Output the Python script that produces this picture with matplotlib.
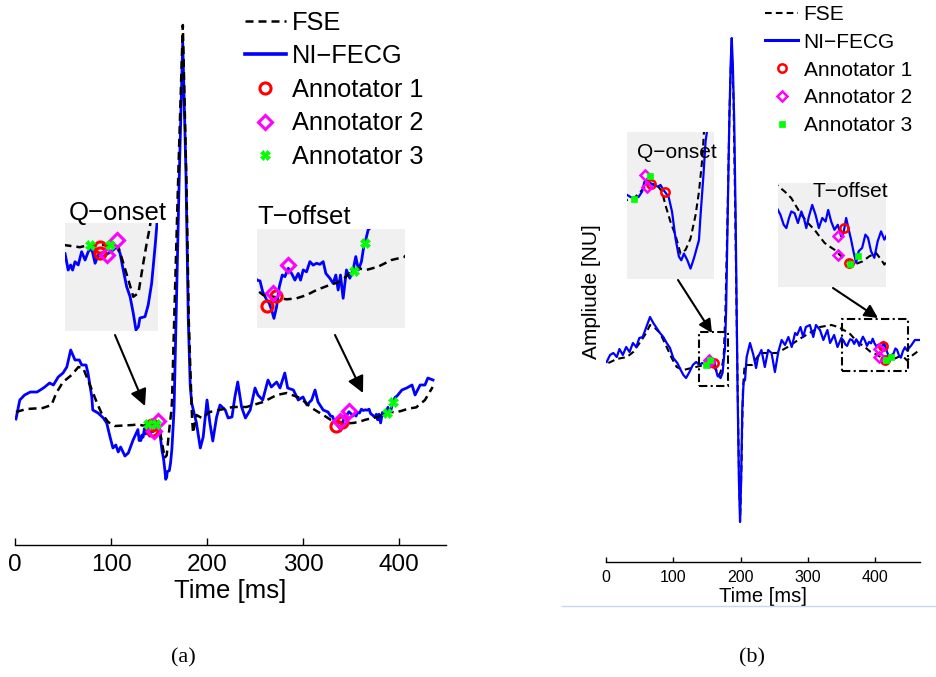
import matplotlib
matplotlib.use('Agg')
import matplotlib.pyplot as plt
from matplotlib.lines import Line2D
from matplotlib.patches import FancyArrowPatch, Rectangle

plt.rcParams['font.family'] = ['Liberation Sans', 'DejaVu Sans']

# ---------------- panel (a) : time [ms] / amplitude [NU] ----------------
a_fecg_t = [1, 5, 10, 16, 23, 28, 31, 36, 40, 45, 50, 54, 58, 62.5, 67, 69.5, 74, 76, 80, 81,
            86.5, 92, 95.5, 99, 102, 105, 107.5, 110, 114.5, 118, 123,
            128.0, 129.3, 130.3, 131.1, 132.1, 133.4, 134.8, 136.2, 137.5, 138.9, 140.3, 141.6,
            143.6, 145.7, 147.7, 149.1, 150.5, 151.8, 153.2, 154.6, 155.9, 157.0, 158.0, 158.6,
            160.7, 162.0, 163.4, 164.8, 165.7, 167.5, 171, 174.7, 178, 180.5, 182.5, 184,
            189, 193, 196, 200, 203, 206, 210, 213.5, 219, 222, 226, 229, 232, 236, 240, 245,
            250, 253, 258, 263.5, 267, 272.5, 276, 281, 284, 290, 295, 300, 304, 309, 312.5,
            315.6, 321, 326,
            328.8, 330.8, 332.4, 334.8, 336.4, 337.8, 339.2, 340.8, 342.4, 344.2, 345.8, 347.8,
            349.8, 351.8, 353.8, 355.2, 356.8, 358.8, 360.8, 362.8, 364.8, 366.8, 368.8, 370.4,
            372.8, 374.8, 376.4, 377.8, 379.2, 380.8, 382.8, 384.8, 386.8, 388.4, 390.0, 391.8,
            393.2, 394.4, 395.8, 397.8, 403, 408, 413.5, 416.7, 422, 427, 430, 435.4]
a_fecg = [0.01, 0.20, 0.25, 0.28, 0.28, 0.31, 0.33, 0.37, 0.35, 0.43, 0.47, 0.53, 0.70, 0.60,
          0.60, 0.55, 0.55, 0.47, 0.23, 0.10,
          0.07, 0.02, -0.03, -0.17, -0.28, -0.25, -0.32, -0.27, -0.36, -0.33, -0.20,
          -0.096, -0.205, -0.172, -0.205, -0.151, -0.172, -0.086, -0.140, -0.086, -0.064, -0.161,
          -0.107, -0.118, -0.096, -0.075, -0.054, -0.096, -0.205, -0.313, -0.378, -0.485, -0.593,
          -0.572, -0.516, -0.507, -0.431, -0.291, -0.054, 0.119, 0.90, 2.40, 3.78, 2.50, 1.00,
          0.35, 0.17,
          -0.03, -0.28, -0.17, 0.20, -0.03, -0.21, 0.03, 0.15, 0.10, 0.02, 0.03, 0.23, 0.38, 0.13,
          0.02, 0.10, 0.32, 0.25, 0.20, 0.40, 0.33, 0.38, 0.32, 0.47, 0.32, 0.30, 0.20, 0.23,
          0.15, 0.20, 0.30, 0.18, 0.10, 0.08,
          0.039, 0.036, -0.004, -0.035, -0.048, -0.073, -0.104, -0.060, 0.014, 0.058, 0.052,
          0.083, 0.064, 0.039, 0.064, 0.039, 0.077, 0.070, 0.108, 0.095, 0.102, 0.098, 0.108,
          0.064, 0.046, 0.027, 0.058, 0.002, 0.058, -0.029, 0.077, 0.046, 0.077, 0.127, 0.077,
          0.108, 0.164, 0.189, 0.226, 0.239, 0.30, 0.32, 0.35, 0.25, 0.35, 0.35, 0.42, 0.40]

a_fse_t = [1, 12, 29, 38, 43, 50, 59, 66, 71, 78, 85, 90, 97, 104, 123,
           127.7, 134.1, 137.5, 146.4, 149.8, 151.8, 153.9, 155.9, 158.0, 160.0, 161.4, 162.7,
           163.5, 165.5, 170.5, 174.8, 178.5, 181, 183, 184.5, 185.5, 189, 194.5, 203, 227, 241,
           258.5, 272.6, 283, 297, 309, 321,
           328.8, 332.8, 338.8, 346.8, 352.8, 358.8, 364.8, 372.8, 378.8, 384.8, 389.8, 394.8,
           401.8, 409.8, 417.8, 427, 435]
a_fse = [0.08, 0.11, 0.12, 0.15, 0.27, 0.38, 0.45, 0.53, 0.52, 0.35, 0.18, 0.07, -0.02, -0.06,
         -0.05,
         -0.043, -0.057, -0.043, -0.043, -0.054, -0.159, -0.269, -0.378, -0.354, -0.159, -0.030,
         0.076, 0.184, 0.90, 2.60, 3.95, 2.40, 1.00, 0.40, 0.00, -0.13, 0.05, 0.02, 0.08, 0.13,
         0.13, 0.18, 0.25, 0.27, 0.22, 0.12, 0.05,
         0.002, -0.017, -0.023, -0.033, -0.029, -0.017, 0.002, 0.021, 0.033, 0.064, 0.083, 0.077,
         0.089, 0.114, 0.126, 0.20, 0.33]

# annotations (two marks per annotator at Q-onset, two at T-offset)
a_ann1_t = [142.3, 142.3, 334.8, 340.4]
a_ann1 = [-0.054, -0.096, -0.057, -0.020]
a_ann2_t = [145.0, 149.1, 338.8, 347.8]
a_ann2 = [-0.107, -0.010, -0.010, 0.095]
a_ann3_t = [138.2, 146.4, 387.2, 393.8]
a_ann3 = [-0.043, -0.043, 0.073, 0.177]

# ---------------- panel (b) ----------------
b_fecg_t = [1, 6, 11, 16, 20, 25, 30, 35, 40, 45, 49.5, 54.5, 59.4, 65.4, 70.3, 75.3, 80.2, 85.2,
            90.2, 95.1, 100, 106, 111, 115, 119, 124, 129, 134, 139, 143,
            146.0, 147.3, 148.8, 150.4, 151.7, 152.6, 153.6, 154.9, 156.1, 157.7, 158.7, 159.9,
            161.8, 163.1, 164.4, 165.7, 166.6, 167.6, 168.9, 170.1, 171.4, 173.3, 173.9, 175.0,
            175.8, 176.7, 178.5, 180.5, 183, 185.2, 186.8, 188.5, 190.5, 192.5, 194, 195.5, 197.5,
            199.2, 200.8, 202.5, 204.5, 206.6, 209, 214, 219, 223, 226, 231, 236, 241, 246, 251,
            256, 261, 266, 271, 276, 281, 284, 289, 293, 297, 303, 308, 312, 318, 323, 329, 333,
            339, 344,
            349.8, 352.9, 355.9, 358.3, 360.7, 362.8, 365.8, 368.8, 371.9, 374.2, 376.4, 378.8,
            381.8, 384.8, 387.8, 390.9, 393.9, 396.3, 399.0, 402.0, 405.0, 408.1, 410.2, 412.6,
            415.0, 417.1, 419.2, 421.7, 424.0, 427.1, 430.1, 432.5, 435.2, 438.2, 441.2, 444.3,
            447.3, 454, 459, 466.6]
b_fecg = [-0.02, 0.05, 0.07, 0.03, 0.11, 0.05, 0.13, 0.08, 0.17, 0.13, 0.22, 0.23, 0.32, 0.43,
          0.37, 0.32, 0.27, 0.23, 0.17, 0.12, 0.02, -0.03, -0.10, -0.15, -0.18, -0.12, -0.05,
          -0.02, -0.05, -0.03,
          -0.039, -0.043, -0.046, -0.043, -0.033, -0.014, -0.010, -0.017, -0.020, -0.023, -0.020,
          -0.030, -0.043, -0.072, -0.123, -0.158, -0.165, -0.152, -0.165, -0.181, -0.161, -0.126,
          -0.078, -0.001, 0.064, 0.096, 0.50, 1.30, 2.30, 2.95, 3.22, 2.95, 2.40, 1.50, 0.60,
          -0.30, -1.20, -1.62, -1.20, -0.50, -0.22, -0.20, 0.03, 0.17, 0.05, -0.08, 0.03, 0.10,
          -0.07, 0.10, 0.07, -0.12, 0.08, 0.20, 0.15, 0.23, 0.13, 0.27, 0.25, 0.33, 0.23, 0.33,
          0.35, 0.23, 0.35, 0.30, 0.20, 0.30, 0.17, 0.25, 0.13,
          0.220, 0.194, 0.154, 0.141, 0.181, 0.207, 0.200, 0.161, 0.207, 0.181, 0.141, 0.187,
          0.233, 0.194, 0.141, 0.181, 0.167, 0.213, 0.167, 0.134, 0.154, 0.108, 0.121, 0.181,
          0.134, 0.095, 0.049, 0.003, 0.049, 0.062, 0.115, 0.102, 0.049, 0.023, 0.088, 0.128,
          0.095, 0.15, 0.20, 0.20]

b_fse_t = [3.5, 16, 31, 40.5, 53, 60.5, 65.4, 72.8, 80.2, 90.2, 97.6, 105, 115, 127, 140,
           149.2, 151.1, 153.0, 154.9, 157.4, 159.3, 160.6, 162.5, 164.4, 166.3, 168.2, 170.1,
           172.0, 173.3, 174.6, 175.2, 177.5, 180.5, 183.5, 186.5, 189.5, 192, 195, 198, 199.5,
           201.5, 203.5, 206, 217, 229, 254, 270, 290, 305, 318, 335, 345,
           351.6, 356.8, 362.8, 367.4, 371.9, 377.9, 383.9, 388.4, 393.0, 397.5, 402.0, 408.1,
           415.6, 421.7, 427.6, 433.7, 439.8, 444.3, 447.3, 456, 466]
b_fse = [-0.03, 0.01, 0.03, 0.08, 0.20, 0.28, 0.35, 0.32, 0.27, 0.13, 0.02, -0.07, -0.10, -0.08,
         -0.06,
         -0.043, -0.033, -0.023, -0.017, -0.020, -0.033, -0.059, -0.091, -0.117, -0.152, -0.145,
         -0.123, -0.078, -0.033, 0.032, 0.083, 0.50, 1.40, 2.50, 3.15, 2.60, 1.50, 0.00, -1.30,
         -1.55, -1.00, -0.30, -0.05, -0.05, 0.07, 0.07, 0.13, 0.22, 0.28, 0.33, 0.35, 0.33,
         0.305, 0.286, 0.260, 0.226, 0.194, 0.161, 0.134, 0.108, 0.082, 0.068, 0.055, 0.029,
         0.007, -0.001, 0.009, 0.029, 0.042, 0.016, -0.004, 0.05, 0.10]

b_ann1_t = [155.1, 160.6, 411.1, 415.0]
b_ann1 = [-0.019, -0.034, 0.141, 0.003]
b_ann2_t = [153.0, 153.4, 405.0, 405.0]
b_ann2 = [0.000, -0.023, 0.108, 0.034]
b_ann3_t = [154.6, 148.8, 416.0, 423.4]
b_ann3 = [-0.002, -0.047, -0.001, 0.029]

legend_labels = ['FSE', 'NI\u2212FECG', 'Annotator 1', 'Annotator 2', 'Annotator 3']

# zoom windows (t0, t1, v0, v1)
a_q_win = (128, 166, -0.6, 0.1)
a_t_win = (329, 418, -0.14, 0.23)
b_q_win = (146, 179, -0.201, 0.082)
b_t_win = (350.7, 448.8, -0.093, 0.32)
b_q_box = (138.2, 181.3, -0.26, 0.28)
b_t_box = (350.7, 448.8, -0.11, 0.41)

# ---------------- layout helpers (pixel coords, top-left origin) ----------------
W, H = 937, 677
BLUE, RED, MAGENTA, GREEN = '#0000ff', '#ff0000', '#ff00ff', '#00ff00'


def box(x0, x1, y0, y1):
    return [x0 / W, 1 - y1 / H, (x1 - x0) / W, (y1 - y0) / H]


def pt(x, y):
    return (x / W, 1 - y / H)


STYLE_A = dict(lw=2.0, lw_fse=1.8, dash=(0, (3.2, 2.0)), ms_o=8, ms_d=7, ms_g=7, mew=2.2, g_mark='X')
STYLE_B = dict(lw=1.6, lw_fse=1.5, dash=(0, (3.2, 2.0)), ms_o=6, ms_d=5.5, ms_g=5, mew=1.8, g_mark='s')


def draw_traces(ax, fecg_t, fecg, fse_t, fse, anns, st, fse_top):
    ax.plot(fecg_t, fecg, color=BLUE, lw=st['lw'], zorder=2.5)
    ax.plot(fse_t, fse, color='k', lw=st['lw_fse'], ls=st['dash'], zorder=3 if fse_top else 2)
    (t1, v1), (t2, v2), (t3, v3) = anns
    ax.plot(t1, v1, ls='none', marker='o', ms=st['ms_o'], mfc='none', mec=RED, mew=st['mew'], zorder=4)
    ax.plot(t2, v2, ls='none', marker='D', ms=st['ms_d'], mfc='none', mec=MAGENTA, mew=st['mew'], zorder=4)
    ax.plot(t3, v3, ls='none', marker=st['g_mark'], ms=st['ms_g'], mfc=GREEN, mec=GREEN, mew=0.5, zorder=4.5)


def legend_handles(st):
    return [Line2D([], [], color='k', lw=st['lw_fse'], ls=st['dash']),
            Line2D([], [], color=BLUE, lw=st['lw'] + 0.6),
            Line2D([], [], ls='none', marker='o', ms=st['ms_o'], mfc='none', mec=RED, mew=st['mew']),
            Line2D([], [], ls='none', marker='D', ms=st['ms_d'], mfc='none', mec=MAGENTA, mew=st['mew']),
            Line2D([], [], ls='none', marker=st['g_mark'], ms=st['ms_g'], mfc=GREEN, mec=GREEN, mew=0.5)]


def style_main(ax, xmax, ylim, tick_fs, tick_pad, tick_len):
    ax.set_xlim(0, xmax)
    ax.set_ylim(*ylim)
    ax.set_facecolor('none')
    for s in ('top', 'right', 'left'):
        ax.spines[s].set_visible(False)
    ax.spines['bottom'].set_linewidth(1.0)
    ax.set_yticks([])
    ax.set_xticks([0, 100, 200, 300, 400])
    ax.tick_params(axis='x', direction='in', length=tick_len, width=1.0,
                   labelsize=tick_fs, pad=tick_pad)


def make_inset(rect, win, fecg_t, fecg, fse_t, fse, anns, st, fse_top):
    ax = fig.add_axes(rect)
    ax.set_facecolor('#f0f0f0')
    draw_traces(ax, fecg_t, fecg, fse_t, fse, anns, st, fse_top)
    ax.set_xlim(win[0], win[1])
    ax.set_ylim(win[2], win[3])
    ax.set_xticks([])
    ax.set_yticks([])
    for s in ax.spines.values():
        s.set_visible(False)
    return ax


def arrow(p0, p1, scale):
    fig.add_artist(FancyArrowPatch(pt(*p0), pt(*p1), transform=fig.transFigure,
                                   arrowstyle='-|>,head_length=0.5,head_width=0.25',
                                   mutation_scale=scale, color='k', lw=1.5, shrinkA=0, shrinkB=0))


fig = plt.figure(figsize=(W / 100, H / 100), dpi=100)

a_anns = [(a_ann1_t, a_ann1), (a_ann2_t, a_ann2), (a_ann3_t, a_ann3)]
b_anns = [(b_ann1_t, b_ann1), (b_ann2_t, b_ann2), (b_ann3_t, b_ann3)]

# ---- panel (a) ----
ax_a = fig.add_axes(box(15, 445.7, 20, 545))
draw_traces(ax_a, a_fecg_t, a_fecg, a_fse_t, a_fse, a_anns, STYLE_A, True)
style_main(ax_a, 448.6, (-1.25, 4.0), 17.5, 6.5, 4.8)
ax_a.set_xlabel('Time [ms]', fontsize=18.5, labelpad=2)

make_inset(box(65, 158, 223, 331), a_q_win, a_fecg_t, a_fecg, a_fse_t, a_fse, a_anns, STYLE_A, True)
make_inset(box(257, 405, 229, 328), a_t_win, a_fecg_t, a_fecg, a_fse_t, a_fse, a_anns, STYLE_A, True)
fig.text(*pt(117.5, 213.3), 'Q\u2212onset', fontsize=18.5, ha='center', va='center')
fig.text(*pt(257.3, 216.7), 'T\u2212offset', fontsize=18.5, ha='left', va='center')
arrow((115, 335), (145, 406), 20)
arrow((335, 335), (363, 393), 20)

fig.legend(legend_handles(STYLE_A), legend_labels, loc='upper left', bbox_to_anchor=pt(245, 10.5),
           frameon=False, fontsize=18.3, handlelength=1.61, handletextpad=0.24,
           labelspacing=0.38, borderpad=0, borderaxespad=0, numpoints=1)

# ---- panel (b) ----
ax_b = fig.add_axes(box(606, 920, 30, 562))
draw_traces(ax_b, b_fecg_t, b_fecg, b_fse_t, b_fse, b_anns, STYLE_B, False)
style_main(ax_b, 466.6, (-2.02, 3.30), 11.5, 5.5, 3.6)
ax_b.set_xlabel('Time [ms]', fontsize=14.5, labelpad=1.5)
ax_b.set_ylabel('Ampliude [NU]', fontsize=15)
ax_b.yaxis.set_label_coords(-0.017, 0.5075)
for t0, t1, v0, v1 in (b_q_box, b_t_box):
    ax_b.add_patch(Rectangle((t0, v0), t1 - t0, v1 - v0, fill=False, ec='k', lw=1.5,
                             ls=(0, (4, 1.6, 1, 1.6)), zorder=5))

make_inset(box(627, 714, 132, 279), b_q_win, b_fecg_t, b_fecg, b_fse_t, b_fse, b_anns, STYLE_B, False)
make_inset(box(778, 886, 183, 287), b_t_win, b_fecg_t, b_fecg, b_fse_t, b_fse, b_anns, STYLE_B, False)
fig.text(*pt(676.5, 153), 'Q\u2212onset', fontsize=15, ha='center', va='center')
fig.text(*pt(850, 191.7), 'T\u2212offset', fontsize=15, ha='center', va='center')
arrow((678, 280), (712, 333), 16)
arrow((833, 288), (878, 318), 16)

fig.legend(legend_handles(STYLE_B), legend_labels, loc='upper left', bbox_to_anchor=pt(765, 5),
           frameon=False, fontsize=15, handlelength=1.6, handletextpad=0.25,
           labelspacing=0.42, borderpad=0, borderaxespad=0, numpoints=1)

# thin separator and captions
fig.add_artist(Line2D([562 / W, 1.0], [1 - 606 / H, 1 - 606 / H], color='#c5d9f1', lw=1.0))
fig.text(*pt(183, 658), '(a)', fontsize=16, ha='center', va='center', family='Liberation Serif')
fig.text(*pt(752, 658), '(b)', fontsize=16, ha='center', va='center', family='Liberation Serif')

fig.savefig('out.png', dpi=100)
